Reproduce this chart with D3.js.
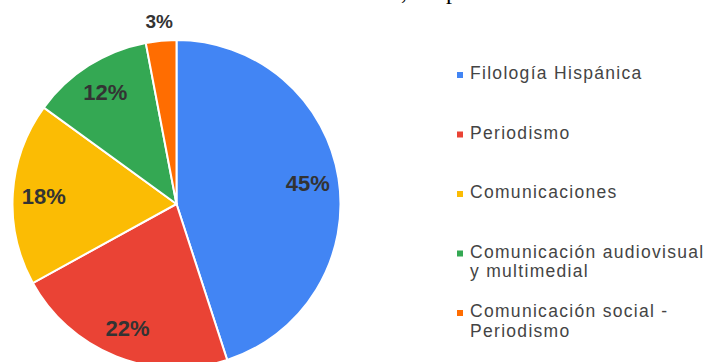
<!DOCTYPE html>
<html>
<head>
<meta charset="utf-8">
<script src="https://cdn.jsdelivr.net/npm/d3@7"></script>
<style>
  body { margin: 0; background: #fff; }
  svg { display: block; }
</style>
</head>
<body>
<div id="chart"></div>
<script>
var categories = ['Filología Hispánica', 'Periodismo', 'Comunicaciones', 'Comunicación audiovisual y multimedial', 'Comunicación social - Periodismo']
var legendLines = [['Filología Hispánica'], ['Periodismo'], ['Comunicaciones'], ['Comunicación audiovisual', 'y multimedial'], ['Comunicación social -', 'Periodismo']]
var values = [45, 22, 18, 12, 3]
var colors = ['#4285f4', '#ea4335', '#fbbc04', '#34a853', '#ff6d01']

width = 709
height = 362

var svg = d3.select('#chart').append('svg').attr('width', width).attr('height', height)

// leftover of the document text above the chart (cut off in the original too)
svg.append('text').attr('x', 401).attr('y', -1).attr('font-family', 'Liberation Serif').attr('font-size', 24).text(',')
svg.append('text').attr('x', 446).attr('y', -1).attr('font-family', 'Liberation Serif').attr('font-size', 24).text('p')

var cx = 176.5, cy = 204, r = 164

var color = d3.scaleOrdinal().domain(categories).range(colors)
var total = d3.sum(values)

var pie = d3.pie().sort(null).value(d => d.value)
var data = pie(categories.map((c, i) => ({name: c, value: values[i]})))

var arc = d3.arc().innerRadius(0).outerRadius(r)
var labelArc = d3.arc().innerRadius(133).outerRadius(133)
var outerLabelArc = d3.arc().innerRadius(184).outerRadius(184)

var g = svg.append('g').attr('transform', 'translate(' + cx + ',' + cy + ')')

g.selectAll('path').data(data).join('path')
  .attr('d', arc)
  .attr('fill', d => color(d.data.name))
  .attr('stroke', '#fff')
  .attr('stroke-width', 2)

g.selectAll('text.lbl').data(data).join('text')
  .attr('class', 'lbl')
  .attr('transform', function(d) {
    var small = d.data.value / total < 0.05
    var p = small ? outerLabelArc.centroid(d) : labelArc.centroid(d)
    return 'translate(' + p[0] + ',' + p[1] + ')'
  })
  .attr('text-anchor', 'middle')
  .attr('dy', '0.36em')
  .attr('font-family', 'Liberation Sans, Arial, sans-serif')
  .attr('font-weight', 'bold')
  .attr('font-size', d => d.data.value / total < 0.05 ? 19 : 22)
  .attr('fill', '#333')
  .text(d => Math.round(d.data.value / total * 100) + '%')

// legend
var legend = svg.append('g')
var rowY = d3.scaleLinear().domain([0, 1]).range([79, 138.5])

var item = legend.selectAll('g').data(legendLines).join('g')
  .attr('transform', (d, i) => 'translate(0,' + rowY(i) + ')')

item.append('rect')
  .attr('x', 457).attr('y', -7)
  .attr('width', 6).attr('height', 6)
  .attr('fill', (d, i) => colors[i])

item.append('text')
  .attr('x', 470)
  .attr('font-family', 'Liberation Sans, Arial, sans-serif')
  .attr('font-size', 17.5)
  .attr('letter-spacing', 1.3)
  .attr('fill', '#444')
  .selectAll('tspan').data(d => d).join('tspan')
  .attr('x', 470)
  .attr('dy', (d, i) => i == 0 ? 0 : 19.5)
  .text(d => d)
</script>
</body>
</html>
